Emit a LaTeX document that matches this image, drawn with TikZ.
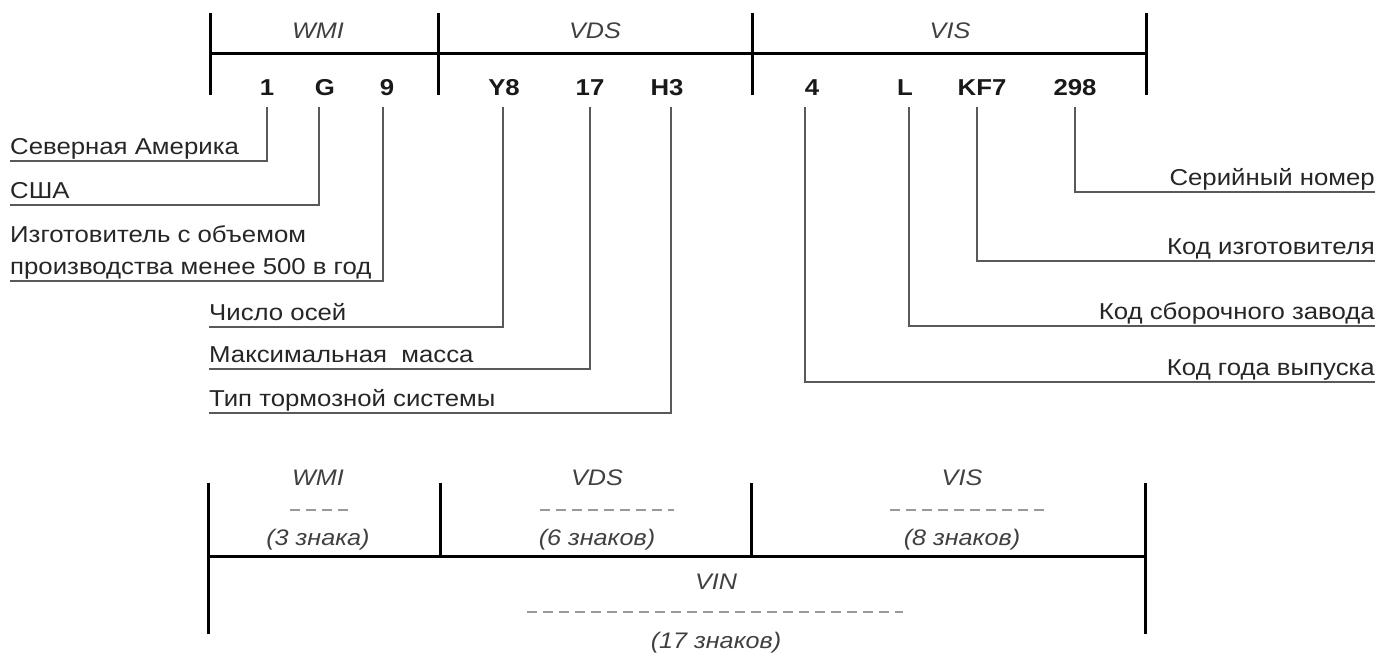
\documentclass[tikz,border=0pt]{standalone}
\usepackage{fontspec}
\setmainfont{Liberation Sans}[FakeStretch=1.12]
\begin{document}
\begin{tikzpicture}[x=1pt,y=-1pt,
  bar/.style={line width=3pt, draw=black},
  lead/.style={line width=1.8pt, draw=black!65},
  seg/.style={font=\itshape\fontsize{22.5}{26}\selectfont, text=black!75, inner sep=0pt},
  chr/.style={font=\bfseries\fontsize{23}{26}\selectfont, text=black!90, inner sep=0pt},
  lab/.style={font=\fontsize{23}{32}\selectfont, text=black!85, inner xsep=0pt, inner ysep=4.5pt, text depth=0.22em},
  dsh/.style={line width=1.6pt, draw=black!40, dash pattern=on 10pt off 6pt}]
\useasboundingbox (0,0) rectangle (1377,659);
% ---------- top scale ----------
\draw[bar] (210,13) -- (210,95);
\draw[bar] (438,13) -- (438,95);
\draw[bar] (752,13) -- (752,95);
\draw[bar] (1146,13) -- (1146,95);
\draw[bar] (210,53) -- (1146,53);
\node[seg] (tWMI) at (318,31) {WMI};
\node[seg] (tVDS) at (595,31) {VDS};
\node[seg] (tVIS) at (950,31) {VIS};
% characters
\node[chr] (c1) at (267,88) {1};
\node[chr] (c2) at (325,88) {G};
\node[chr] (c3) at (387,88) {9};
\node[chr] (c4) at (504,88) {Y8};
\node[chr] (c5) at (590,88) {17};
\node[chr] (c6) at (667,88) {H3};
\node[chr] (c7) at (812,88) {4};
\node[chr] (c8) at (905,88) {L};
\node[chr] (c9) at (982,88) {KF7};
\node[chr] (c10) at (1075,88) {298};
% leader start points
\coordinate (p1) at (267,107);
\coordinate (p2) at (319,107);
\coordinate (p3) at (383,107);
\coordinate (p4) at (503,107);
\coordinate (p5) at (590,107);
\coordinate (p6) at (671,107);
\coordinate (p7) at (805,107);
\coordinate (p8) at (909,107);
\coordinate (p9) at (977,107);
\coordinate (p10) at (1075,107);
% left labels
\node[lab, anchor=south west] (l1) at (10,161) {Северная Америка};
\node[lab, anchor=south west] (l2) at (10,205) {США};
\node[lab, anchor=south west, align=left] (l3) at (10,281) {Изготовитель с объемом\\производства менее 500 в год};
\node[lab, anchor=south west] (l4) at (209,327) {Число осей};
\node[lab, anchor=south west] (l5) at (209,369) {Максимальная\ \ масса};
\node[lab, anchor=south west] (l6) at (209,413) {Тип тормозной системы};
% right labels
\node[lab, anchor=south east] (r1) at (1375,192) {Серийный номер};
\node[lab, anchor=south east] (r2) at (1375,261) {Код изготовителя};
\node[lab, anchor=south east] (r3) at (1375,326) {Код сборочного завода};
\node[lab, anchor=south east] (r4) at (1375,382) {Код года выпуска};
% leaders
\draw[lead] (p1) |- (l1.south west);
\draw[lead] (p2) |- (l2.south west);
\draw[lead] (p3) |- (l3.south west);
\draw[lead] (p4) |- (l4.south west);
\draw[lead] (p5) |- (l5.south west);
\draw[lead] (p6) |- (l6.south west);
\draw[lead] (p10) |- (r1.south east);
\draw[lead] (p9) |- (r2.south east);
\draw[lead] (p8) |- (r3.south east);
\draw[lead] (p7) |- (r4.south east);
% ---------- bottom scale ----------
\draw[bar] (208,483) -- (208,634);
\draw[bar] (1145,483) -- (1145,634);
\draw[bar] (440,483) -- (440,556);
\draw[bar] (751,483) -- (751,556);
\draw[bar] (208,556) -- (1145,556);
\node[seg] (bWMI) at (318,478) {WMI};
\node[seg] (bVDS) at (597,478) {VDS};
\node[seg] (bVIS) at (962,478) {VIS};
\draw[dsh] (290,510) -- (350,510);
\draw[dsh] (540,510) -- (674,510);
\draw[dsh] (890,510) -- (1050,510);
\node[seg] (n3) at (318,540) {(3 знака)};
\node[seg] (n6) at (597,540) {(6 знаков)};
\node[seg] (n8) at (962,540) {(8 знаков)};
\node[seg] (bVIN) at (716,582) {VIN};
\draw[dsh] (527,612) -- (903,612);
\node[seg] (n17) at (716,643) {(17 знаков)};
\end{tikzpicture}
\end{document}
